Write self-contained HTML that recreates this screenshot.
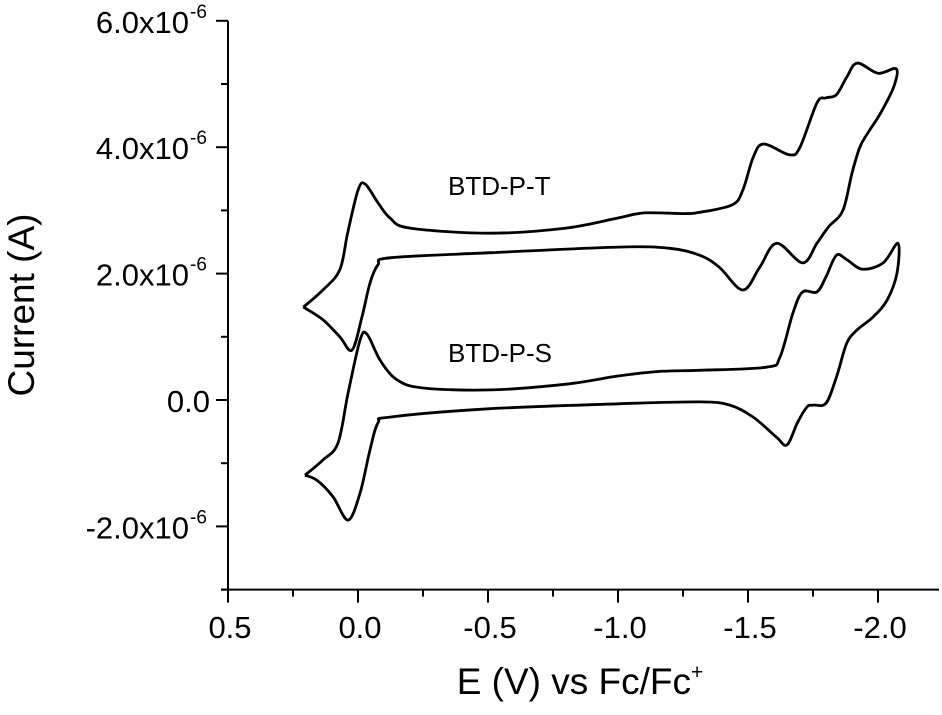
<!DOCTYPE html>
<html><head><meta charset="utf-8"><style>
html,body{margin:0;padding:0;background:#fff;}
svg{display:block;font-family:"Liberation Sans",Arial,sans-serif;}
</style></head><body>
<svg id="chart" width="942" height="715" viewBox="0 0 942 715">
<g id="axes"></g>
<g id="series"></g>
<text x="448" y="195" font-size="26">BTD-P-T</text>
<text x="448" y="362" font-size="26">BTD-P-S</text>
<text transform="translate(34,305) rotate(-90)" text-anchor="middle" font-size="37">Current (A)</text>
<text x="580" y="694" text-anchor="middle" font-size="37">E (V) vs Fc/Fc<tspan dy="-15" font-size="21">+</tspan></text>
</svg>
<script>
const xTicks = [0.5, 0.0, -0.5, -1.0, -1.5, -2.0];
const xTickLabels = ["0.5", "0.0", "-0.5", "-1.0", "-1.5", "-2.0"];
const yTicks = [6, 4, 2, 0, -2];
const yTickLabels = ["6.0x10", "4.0x10", "2.0x10", "0.0", "-2.0x10"];
const ySup = ["-6", "-6", "-6", "", "-6"];
const seriesNames = ["BTD-P-T", "BTD-P-S"];
const tE = [0.21,0.135,0.07,0.04,0.0,-0.027,-0.077,-0.123,-0.2,-0.51,-0.8,-1.0,-1.1,-1.25,-1.315,-1.44,-1.48,-1.52,-1.56,-1.66,-1.70,-1.765,-1.80,-1.84,-1.88,-1.92,-2.0,-2.07,
 -2.06,-2.01,-1.96,-1.93,-1.90,-1.865,-1.81,-1.765,-1.71,-1.61,-1.545,-1.48,-1.39,-1.315,-1.2,-1.0,-0.51,-0.123,-0.077,-0.046,-0.015,0.023,0.07,0.135,0.21];
const tI = [1.47,1.74,2.06,2.64,3.32,3.42,3.12,2.88,2.72,2.64,2.72,2.88,2.96,2.95,2.97,3.09,3.32,3.84,4.05,3.88,4.0,4.7,4.78,4.83,5.11,5.33,5.17,5.24,
 4.95,4.54,4.22,4.0,3.59,3.0,2.74,2.48,2.17,2.48,2.1,1.74,2.1,2.29,2.4,2.42,2.33,2.25,2.14,1.85,1.31,0.79,1.0,1.27,1.47];
const sE = [0.204,0.135,0.077,0.038,-0.008,-0.035,-0.085,-0.15,-0.25,-0.51,-0.8,-1.0,-1.15,-1.315,-1.573,-1.623,-1.673,-1.71,-1.765,-1.80,-1.84,-1.88,-1.94,-2.02,-2.077,
 -2.073,-2.035,-1.98,-1.92,-1.88,-1.84,-1.80,-1.75,-1.727,-1.69,-1.65,-1.61,-1.52,-1.43,-1.315,-1.0,-0.5,-0.123,-0.077,-0.046,-0.008,0.038,0.096,0.158,0.204];
const sI = [-1.19,-0.95,-0.68,0.11,0.95,1.04,0.63,0.32,0.19,0.16,0.25,0.38,0.45,0.47,0.52,0.68,1.38,1.71,1.71,1.95,2.29,2.22,2.07,2.17,2.48,
 2.01,1.58,1.31,1.11,0.9,0.36,-0.05,-0.08,-0.11,-0.36,-0.71,-0.59,-0.27,-0.08,-0.03,-0.06,-0.14,-0.27,-0.36,-0.79,-1.47,-1.9,-1.53,-1.27,-1.19];

const NS = "http://www.w3.org/2000/svg";
function xs(v){ return 358 - 260 * v; }
function ys(v){ return 400 - 63.2 * v; }
const axes = document.getElementById('axes');
function mk(tag, attrs, parent){ const e = document.createElementNS(NS, tag); for (const k in attrs) e.setAttribute(k, attrs[k]); parent.appendChild(e); return e; }

const yAxis = mk('line', {x1: 228, y1: ys(6), x2: 228, y2: ys(-3), stroke: '#000', 'stroke-width': 2}, axes);


const xAxis = mk('line', {x1: 221, y1: ys(-3), x2: 939, y2: ys(-3), stroke: '#000', 'stroke-width': 2}, axes);



for (let v = 6; v >= -3; v--) {
  const major = yTicks.indexOf(v) >= 0;
  const t = mk('line', {x1: major ? 216 : 221, y1: ys(v), x2: 228, y2: ys(v), stroke: '#000', 'stroke-width': 2}, axes);
  
  
}
yTicks.forEach((v, i) => {
  const t = mk('text', {x: ySup[i] ? 189 : 210, y: ys(v) + 12, 'text-anchor': 'end', 'font-size': 31}, axes);
  t.textContent = yTickLabels[i];
  
  
  if (ySup[i]) {
    const s = mk('text', {x: 190, y: ys(v) - 3, 'font-size': 19}, axes);
    s.textContent = ySup[i];
    
    
  }
});
for (let k = 0; k <= 10; k++) {
  const v = 0.5 - 0.25 * k;
  const major = k % 2 === 0;
  const t = mk('line', {x1: xs(v), y1: ys(-3), x2: xs(v), y2: ys(-3) + (major ? 13 : 7), stroke: '#000', 'stroke-width': 2}, axes);
  
  
}
xTicks.forEach((v, i) => {
  const t = mk('text', {x: xs(v) + 2, y: 638, 'text-anchor': 'middle', 'font-size': 31}, axes);
  t.textContent = xTickLabels[i];
  
  
});

function pathFor(E, I){
  const p = E.map((e, i) => [xs(e), ys(I[i])]);
  let d = 'M' + p[0][0].toFixed(1) + ',' + p[0][1].toFixed(1);
  for (let i = 0; i < p.length - 1; i++) {
    const p0 = p[Math.max(0, i - 1)], p1 = p[i], p2 = p[i + 1], p3 = p[Math.min(p.length - 1, i + 2)];
    const c1x = p1[0] + (p2[0] - p0[0]) / 6, c1y = p1[1] + (p2[1] - p0[1]) / 6;
    const c2x = p2[0] - (p3[0] - p1[0]) / 6, c2y = p2[1] - (p3[1] - p1[1]) / 6;
    d += ' C' + c1x.toFixed(1) + ',' + c1y.toFixed(1) + ' ' + c2x.toFixed(1) + ',' + c2y.toFixed(1) + ' ' + p2[0].toFixed(1) + ',' + p2[1].toFixed(1);
  }
  return d;
}
const series = document.getElementById('series');
const l1 = mk('path', {d: pathFor(tE, tI), fill: 'none', stroke: '#000', 'stroke-width': 2.8, 'stroke-linejoin': 'round'}, series);


const l2 = mk('path', {d: pathFor(sE, sI), fill: 'none', stroke: '#000', 'stroke-width': 2.8, 'stroke-linejoin': 'round'}, series);


</script>
</body></html>
